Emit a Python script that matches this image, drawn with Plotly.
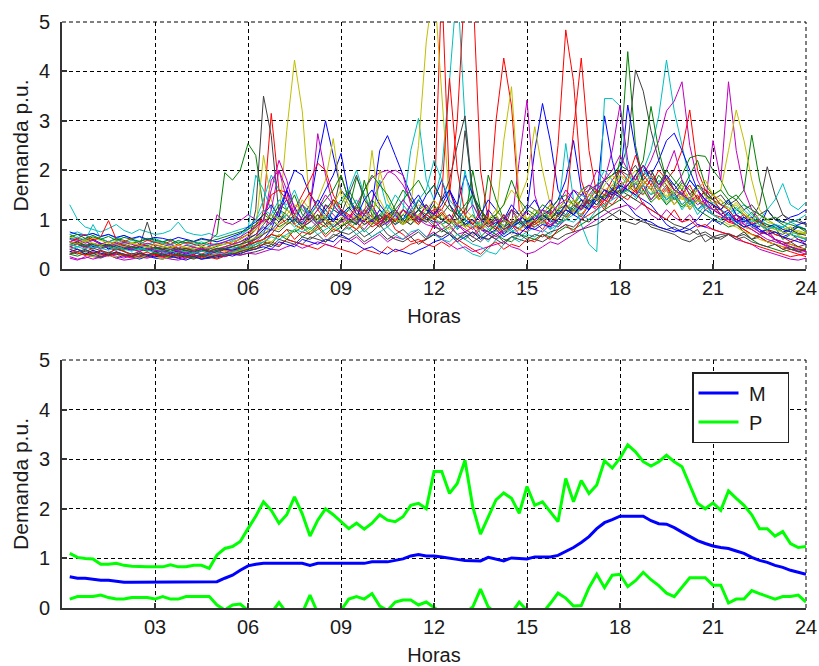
import plotly.graph_objects as go

# time axis: 15-minute samples, hours 0.25 .. 24
hours = [0.25 * (i + 1) for i in range(96)]
tick_vals = [3, 6, 9, 12, 15, 18, 21, 24]
tick_text = ["03", "06", "09", "12", "15", "18", "21", "24"]
y_ticks = [0, 1, 2, 3, 4, 5]

# ---- top panel: individual daily demand curves (p.u.) ----
b1 = [0.62,0.58,0.55,0.60,0.52,0.48,0.55,0.50,0.45,0.50,0.47,0.42,
      0.40,0.45,0.38,0.42,0.40,0.36,0.42,0.38,0.45,0.50,0.55,0.62,
      0.70,0.85,0.78,0.95,1.10,0.90,1.05,1.30,2.20,3.00,2.30,1.60,
      1.40,1.10,0.95,1.30,2.40,2.70,2.30,1.90,1.50,1.20,1.05,0.95,
      0.95,1.10,0.85,0.90,1.00,0.80,0.75,0.90,1.05,0.85,0.95,1.20,
      2.40,3.35,2.60,1.60,1.30,1.10,1.00,1.20,1.40,3.10,2.20,1.60,
      1.60,1.75,1.50,1.85,1.65,1.40,1.55,1.30,1.45,1.20,1.35,1.10,
      1.00,1.15,0.95,0.85,0.90,0.75,0.80,0.70,0.65,0.72,0.60,0.55]
g1 = [0.70,0.62,0.58,0.65,0.60,0.55,0.62,0.58,0.52,0.56,0.60,0.54,
      0.55,0.50,0.58,0.52,0.55,0.60,0.58,0.70,1.95,1.80,2.00,2.54,
      2.30,1.20,1.00,0.85,0.95,1.10,0.90,0.80,0.95,1.05,0.85,1.00,
      1.20,1.85,1.50,1.10,0.95,1.05,1.20,1.00,0.90,1.10,1.25,1.05,
      0.90,1.00,0.80,0.95,1.10,0.85,0.75,0.90,1.00,0.80,0.95,0.85,
      0.90,1.05,1.15,0.95,1.00,1.20,1.10,1.30,1.45,1.25,1.50,2.20,
      4.40,2.50,1.80,1.60,1.90,1.70,1.50,1.75,1.60,1.45,1.55,1.30,
      1.20,1.35,1.10,1.00,1.15,0.95,0.85,0.90,0.75,0.80,0.70,0.72]
r1 = [0.48,0.55,0.45,0.40,0.50,0.42,0.38,0.45,0.40,0.35,0.42,0.38,
      0.36,0.40,0.33,0.38,0.35,0.30,0.36,0.32,0.40,0.38,0.45,0.50,
      0.60,1.20,3.15,1.60,1.55,0.90,0.80,1.10,0.95,0.85,1.00,1.15,
      0.90,1.05,1.20,0.95,0.85,1.10,1.00,0.90,1.15,1.05,1.30,1.10,
      5.80,1.60,1.10,0.90,0.80,1.00,1.05,3.00,4.27,3.30,1.20,0.90,
      0.85,0.95,1.10,0.90,1.00,1.20,1.05,1.30,1.25,1.45,1.60,1.50,
      1.70,1.55,1.80,1.60,1.45,1.65,1.40,1.55,1.30,1.45,1.20,1.10,
      1.05,0.95,1.00,0.85,0.80,0.70,0.75,0.60,0.55,0.50,0.45,0.40]
c1 = [1.30,1.00,0.85,0.80,0.75,0.82,0.90,0.78,0.72,0.80,0.75,0.70,
      0.72,0.78,0.95,0.75,0.70,0.68,0.72,0.65,0.70,0.75,0.80,0.85,
      1.00,1.40,1.90,1.60,1.20,1.05,1.30,1.10,0.95,1.20,1.40,1.15,
      0.90,1.00,1.20,0.95,1.10,1.30,1.05,1.20,2.40,3.05,1.80,1.40,
      2.00,3.80,5.80,3.00,1.30,1.00,0.90,1.10,0.85,0.95,0.80,1.00,
      1.10,0.95,1.20,1.05,1.30,1.15,1.40,1.25,1.50,1.40,1.65,1.55,
      1.60,1.80,2.00,2.40,3.10,4.23,3.20,2.50,1.80,1.60,1.40,1.50,
      1.30,1.25,1.10,1.20,1.05,0.95,1.00,0.90,0.85,0.95,0.88,0.80]
m1 = [0.40,0.35,0.30,0.25,0.22,0.28,0.30,0.26,0.22,0.25,0.28,0.24,
      0.35,0.30,0.38,0.33,0.30,0.36,0.40,1.10,0.95,0.90,0.98,1.10,
      1.00,0.95,1.80,2.00,1.40,1.10,0.95,1.20,2.74,1.90,1.30,1.10,
      1.00,1.30,1.60,1.85,1.95,2.00,1.90,1.70,1.40,1.20,1.10,1.00,
      0.80,0.70,0.90,0.75,0.65,0.80,0.70,0.60,0.75,0.90,2.20,3.42,
      1.50,1.00,0.90,0.85,1.00,1.20,1.10,1.30,1.20,1.40,1.55,1.45,
      1.80,1.60,1.90,2.20,2.60,3.20,3.40,3.79,2.50,1.80,1.50,1.40,
      1.20,1.10,1.00,0.90,0.95,0.80,0.70,0.60,0.55,0.45,0.40,0.35]
y1 = [0.35,0.40,0.32,0.38,0.30,0.28,0.34,0.30,0.25,0.30,0.27,0.25,
      0.22,0.28,0.25,0.30,0.24,0.20,0.28,0.32,0.35,0.40,0.45,0.60,
      0.80,2.30,1.40,1.00,2.80,4.23,3.20,1.20,0.90,1.00,0.85,0.95,
      1.10,0.90,1.05,2.40,1.20,0.95,1.00,1.10,1.30,2.50,4.60,5.80,
      3.50,1.30,1.00,0.90,0.85,0.80,0.95,1.00,2.60,3.69,1.40,1.00,
      0.90,1.10,1.00,1.20,1.05,1.15,1.30,1.25,1.40,1.60,1.50,1.70,
      1.55,1.75,1.60,1.40,1.55,1.35,1.50,1.30,1.25,1.40,1.20,1.10,
      1.00,1.10,0.95,0.85,0.80,0.90,0.75,0.70,0.65,0.60,0.68,0.62]
k1 = [0.45,0.40,0.35,0.42,0.38,0.33,0.40,0.36,0.30,0.35,0.28,0.32,
      0.30,0.35,0.28,0.25,0.30,0.22,0.26,0.30,0.28,0.35,0.40,0.50,
      1.20,3.50,2.70,1.10,0.90,1.00,0.85,0.95,1.10,0.90,1.20,1.90,
      1.40,1.20,1.00,1.10,0.90,1.00,1.15,0.95,1.05,1.20,1.00,1.10,
      1.40,1.80,2.50,3.10,1.50,1.00,0.90,1.05,0.85,0.95,1.00,0.90,
      1.10,1.20,1.00,1.15,1.05,1.25,1.40,1.30,1.50,1.45,1.60,2.00,
      2.50,4.03,3.60,2.80,2.20,1.80,1.60,1.50,1.40,1.60,1.30,1.20,
      1.20,1.00,1.10,0.95,1.00,1.30,2.07,1.50,1.10,1.00,0.95,0.90]
b2 = [0.30,0.35,0.28,0.32,0.25,0.30,0.22,0.28,0.25,0.20,0.26,0.22,
      0.20,0.25,0.22,0.18,0.24,0.20,0.22,0.25,0.28,0.30,0.35,0.40,
      0.50,0.60,0.80,1.20,1.60,2.00,1.90,1.50,1.30,1.60,1.90,2.34,
      1.50,1.10,0.90,1.00,0.85,0.95,1.10,0.90,1.00,1.20,1.50,1.70,
      1.40,1.60,1.30,1.90,1.50,1.20,1.00,0.90,1.10,0.85,0.95,0.80,
      1.00,1.10,1.20,1.40,1.80,2.60,1.60,1.30,1.50,1.40,1.60,1.80,
      3.32,2.40,1.70,1.90,2.20,2.60,2.75,2.40,2.00,1.60,1.40,1.30,
      1.10,1.20,1.00,0.95,1.05,0.90,0.80,0.85,0.75,0.80,0.90,0.95]
g2 = [0.55,0.50,0.45,0.52,0.48,0.42,0.50,0.46,0.40,0.44,0.48,0.42,
      0.45,0.40,0.48,0.42,0.38,0.44,0.40,0.46,0.50,0.55,0.60,0.70,
      0.85,1.00,0.90,1.20,1.10,0.95,1.30,1.15,1.00,1.20,1.40,1.30,
      1.60,1.30,1.10,1.40,1.20,1.00,1.30,1.60,1.40,1.20,1.30,1.10,
      1.00,0.90,1.20,0.85,1.00,0.80,1.90,1.40,1.00,0.90,1.10,0.95,
      1.10,1.00,1.20,1.05,1.30,1.20,1.40,1.35,1.50,1.45,1.60,1.55,
      1.60,1.90,2.20,3.29,2.40,1.80,1.70,1.90,2.25,2.30,2.28,2.00,
      1.80,1.50,1.40,1.60,2.71,1.80,1.20,1.00,0.90,0.80,0.85,0.75]
r2 = [0.60,0.55,0.62,0.58,0.50,0.55,0.52,0.48,0.45,0.50,0.46,0.42,
      0.40,0.45,0.42,0.38,0.44,0.40,0.36,0.42,0.38,0.40,0.45,0.42,
      0.40,0.50,0.70,0.90,1.00,1.20,1.50,1.80,2.14,2.00,1.50,1.20,
      1.10,1.00,1.20,1.05,0.95,1.10,1.00,0.90,1.05,0.95,1.10,1.20,
      1.20,1.50,3.00,5.80,5.80,2.00,1.00,0.85,0.70,0.90,0.80,0.75,
      1.00,0.90,1.10,2.50,4.84,3.80,1.80,1.30,1.40,1.20,1.50,1.60,
      1.70,1.90,1.60,1.80,1.50,1.70,1.40,1.60,1.35,1.50,1.20,1.30,
      1.10,0.95,0.90,0.80,0.70,0.65,0.55,0.50,0.45,0.40,0.35,0.38]
c2 = [0.70,0.75,0.68,0.72,0.65,0.70,0.62,0.68,0.60,0.65,0.58,0.62,
      0.55,0.60,0.52,0.58,0.50,0.55,0.48,0.52,0.50,0.58,0.65,0.80,
      1.90,1.60,1.20,1.00,1.10,0.95,1.30,1.05,0.90,1.10,1.00,1.20,
      0.95,1.05,0.90,1.00,1.80,1.20,1.00,0.90,1.10,1.00,0.95,1.05,
      0.90,1.00,0.80,2.00,1.20,0.70,0.55,0.80,0.90,0.75,0.85,1.00,
      1.20,1.00,0.80,1.10,2.54,1.40,0.90,0.50,0.35,3.45,3.45,3.30,
      2.00,1.60,1.70,1.50,1.80,1.60,1.40,1.55,1.30,1.45,1.25,1.35,
      1.20,1.10,1.25,1.05,0.95,1.00,0.90,0.80,0.85,0.75,0.70,0.72]
m2 = [0.25,0.20,0.22,0.28,0.25,0.30,0.26,0.22,0.28,0.24,0.30,0.26,
      0.28,0.32,0.26,0.30,0.28,0.25,0.30,0.35,0.32,0.40,0.38,0.45,
      0.55,0.70,1.20,2.00,1.60,1.10,0.90,1.00,0.85,1.30,1.10,0.95,
      1.00,0.90,1.20,1.40,1.70,1.95,2.00,1.90,1.30,1.00,0.90,0.85,
      0.80,0.90,0.70,0.75,0.85,0.65,0.60,0.70,0.80,0.90,0.70,0.85,
      0.80,0.75,0.90,1.00,1.20,1.10,1.30,1.60,2.00,1.80,2.40,3.32,
      2.20,1.60,1.50,1.70,1.40,1.60,1.30,1.50,1.20,1.40,1.30,2.60,
      1.80,3.79,2.40,1.60,1.20,1.00,0.80,0.60,0.50,0.40,0.35,0.30]
y2 = [0.50,0.45,0.55,0.48,0.42,0.50,0.45,0.40,0.46,0.42,0.38,0.44,
      0.40,0.36,0.42,0.38,0.35,0.40,0.36,0.42,0.45,0.50,0.55,0.58,
      0.60,0.80,1.00,0.90,1.10,1.30,1.20,1.00,1.40,1.80,2.64,1.50,
      1.20,1.00,1.10,0.90,2.00,1.40,1.10,1.20,1.00,0.90,1.10,1.30,
      1.10,0.90,1.00,0.85,0.95,0.80,0.90,1.10,1.30,1.60,1.40,1.80,
      2.88,2.00,1.30,1.10,1.00,1.20,1.10,1.30,1.40,1.60,1.50,1.90,
      1.70,1.50,1.80,1.60,1.40,1.50,1.30,1.45,1.25,1.40,1.30,1.50,
      1.60,2.40,3.22,2.60,1.80,1.20,1.00,0.90,0.80,0.85,0.70,0.75]
k2 = [0.35,0.30,0.38,0.32,0.28,0.34,0.30,0.26,0.32,0.28,0.24,0.30,
      0.26,0.22,0.28,0.24,0.20,0.26,0.22,0.28,0.25,0.30,0.28,0.32,
      0.35,0.40,0.50,0.45,0.60,0.55,0.50,0.65,0.60,0.55,0.70,0.65,
      0.60,0.70,0.55,0.65,0.75,0.60,0.70,0.80,0.65,0.75,0.60,0.70,
      0.65,0.75,0.60,0.70,0.55,0.65,0.60,0.70,0.55,0.65,0.60,0.55,
      0.60,0.55,0.65,0.60,0.70,0.75,0.80,0.85,0.90,1.00,1.10,1.20,
      1.10,1.00,0.95,0.90,0.85,0.80,0.85,0.75,0.70,0.80,0.55,0.65,
      0.70,0.72,0.65,0.70,0.60,0.65,0.55,0.60,0.50,0.55,0.45,0.50]
b3 = [0.55,0.50,0.58,0.45,0.52,0.40,0.48,0.42,0.38,0.45,0.40,0.35,
      0.38,0.32,0.36,0.30,0.34,0.28,0.32,0.36,0.40,0.38,0.42,0.50,
      0.65,0.80,0.95,1.20,1.40,1.00,0.90,1.10,1.30,1.10,0.95,1.20,
      1.00,0.90,1.10,0.95,1.20,1.05,0.90,1.00,1.15,1.00,1.10,1.40,
      1.80,1.30,1.10,0.90,1.00,0.80,1.20,1.00,0.70,0.85,1.00,1.20,
      1.40,1.10,0.95,1.00,1.20,1.10,1.30,1.50,1.40,1.60,1.55,1.45,
      1.30,1.10,1.00,0.95,0.85,0.80,0.75,0.80,0.90,1.00,1.20,1.10,
      1.00,1.15,0.95,1.05,0.90,0.85,1.20,1.00,0.95,1.05,1.10,1.20]
g3 = [0.45,0.52,0.48,0.42,0.50,0.46,0.40,0.38,0.44,0.40,0.36,0.42,
      0.38,0.34,0.40,0.36,0.32,0.38,0.34,0.36,0.40,0.45,0.42,0.48,
      0.55,0.60,0.70,0.65,0.80,0.75,0.85,0.70,0.80,0.90,0.75,0.85,
      1.00,0.90,1.80,1.20,0.95,1.05,0.90,1.10,1.00,1.20,1.10,1.30,
      1.00,1.10,0.90,1.00,2.00,1.20,0.90,0.80,1.00,1.20,0.90,1.00,
      0.95,1.10,1.00,1.20,1.10,1.30,1.20,1.40,1.30,1.50,1.60,1.70,
      1.80,1.60,1.90,2.00,1.70,1.80,1.60,1.50,1.40,1.70,1.50,1.40,
      1.30,1.40,1.20,1.10,1.00,0.95,0.90,0.85,0.60,0.70,0.65,0.60]
r3 = [0.30,0.35,0.28,0.32,0.38,0.30,0.42,0.35,0.28,0.32,0.26,0.30,
      0.28,0.24,0.30,0.26,0.22,0.28,0.24,0.20,0.26,0.30,0.35,0.40,
      0.45,0.50,0.55,0.48,0.60,0.55,0.50,0.45,0.40,0.50,0.45,0.40,
      0.35,0.30,0.40,0.35,0.30,0.45,0.35,0.40,0.50,0.55,0.60,0.90,
      1.50,3.86,2.00,1.10,0.90,0.80,1.00,0.85,0.75,0.90,0.80,0.95,
      0.90,1.00,0.85,1.10,1.20,2.80,4.27,2.40,1.50,1.30,1.60,1.70,
      1.80,1.60,1.70,1.90,1.60,1.80,2.00,2.40,3.22,2.00,1.60,1.40,
      1.20,1.00,0.90,0.80,0.70,0.65,0.55,0.50,0.40,0.35,0.30,0.25]
c3 = [0.40,0.45,0.50,0.42,0.48,0.44,0.40,0.46,0.42,0.38,0.44,0.40,
      0.36,0.42,0.38,0.34,0.40,0.36,0.32,0.38,0.42,0.40,0.48,0.55,
      0.60,0.75,0.90,1.20,1.00,0.85,0.95,1.10,0.90,1.00,1.20,1.10,
      1.20,1.40,1.10,1.30,1.00,1.20,1.50,1.30,1.10,1.40,1.20,1.00,
      0.90,0.70,0.55,0.40,0.30,0.25,0.40,0.60,0.70,0.80,0.65,0.75,
      0.85,0.95,0.80,0.90,1.00,1.10,1.20,1.30,1.40,1.60,1.50,1.70,
      1.60,1.50,1.70,1.40,1.60,1.30,1.50,1.20,1.40,1.10,1.30,1.20,
      1.10,1.00,1.20,1.30,1.10,1.00,1.20,1.40,1.73,1.30,1.20,1.35]
m3 = [0.22,0.18,0.25,0.20,0.24,0.28,0.22,0.18,0.20,0.24,0.22,0.26,
      0.24,0.20,0.18,0.22,0.26,0.20,0.24,0.28,0.25,0.30,0.28,0.32,
      0.30,0.35,0.40,0.38,0.45,0.50,0.42,0.48,0.55,0.50,0.45,0.60,
      0.55,0.65,0.50,0.60,0.70,0.55,0.65,0.60,0.70,0.80,0.65,0.75,
      0.60,0.50,0.40,0.45,0.35,0.40,0.45,0.50,0.55,0.45,0.40,0.30,
      0.35,0.45,0.55,0.50,0.60,0.70,0.80,0.90,1.00,1.10,1.20,1.25,
      1.30,1.20,1.35,1.10,1.00,1.20,1.05,0.95,1.10,0.90,0.85,0.80,
      0.75,0.70,0.60,0.55,0.50,0.40,0.35,0.30,0.25,0.20,0.18,0.22]
y3 = [0.65,0.60,0.55,0.62,0.58,0.52,0.56,0.50,0.54,0.48,0.52,0.46,
      0.50,0.45,0.48,0.42,0.46,0.40,0.44,0.40,0.45,0.50,0.48,0.55,
      0.65,0.70,0.85,0.80,0.95,0.90,1.05,0.95,1.10,1.00,0.90,1.05,
      0.95,1.10,1.00,0.90,1.05,1.20,1.00,0.95,1.10,1.00,1.20,1.05,
      1.10,0.95,1.00,1.20,1.05,0.90,1.00,1.10,0.85,1.00,1.20,1.00,
      1.10,1.20,1.05,1.30,1.20,1.40,1.25,1.50,1.60,1.45,1.70,1.90,
      1.80,1.60,1.70,1.50,1.65,1.45,1.60,1.40,1.55,1.35,1.50,1.30,
      1.40,1.20,1.35,1.15,1.00,1.10,0.95,0.90,0.80,0.85,0.75,0.70]
k3 = [0.50,0.55,0.48,0.52,0.46,0.50,0.44,0.48,0.42,0.46,0.95,0.45,
      0.40,0.44,0.38,0.42,0.36,0.40,0.34,0.38,0.42,0.45,0.50,0.60,
      0.70,0.90,1.10,0.95,1.20,1.05,0.90,1.10,1.00,1.30,1.20,1.10,
      1.50,1.90,1.40,1.20,1.00,1.10,0.95,1.20,1.05,1.40,1.20,1.00,
      1.10,1.30,1.00,1.20,1.50,1.10,0.90,1.00,0.80,1.20,1.10,1.30,
      1.20,1.10,1.30,1.20,1.40,1.30,1.50,1.60,1.70,1.80,1.90,2.00,
      1.90,2.10,1.80,2.00,1.70,1.90,1.60,1.80,1.50,1.70,1.60,1.40,
      1.50,1.30,1.40,1.20,1.30,1.10,1.20,1.00,1.10,0.95,1.00,0.90]
b4 = [0.75,0.70,0.68,0.72,0.66,0.70,0.64,0.68,0.62,0.66,0.60,0.64,
      0.62,0.58,0.64,0.60,0.56,0.62,0.58,0.55,0.60,0.66,0.72,0.85,
      0.95,1.10,1.30,1.05,1.60,1.25,1.00,1.15,1.40,1.20,1.00,1.10,
      1.25,1.05,1.40,1.60,1.30,1.10,1.20,1.00,1.30,1.50,1.20,1.10,
      1.30,1.60,1.20,1.00,0.90,1.10,1.40,1.20,1.00,1.30,1.10,0.95,
      1.05,1.20,1.40,1.10,1.30,1.60,1.40,1.20,1.50,1.80,1.60,1.50,
      1.70,1.90,2.10,1.80,1.60,1.90,1.70,1.50,1.80,1.60,1.40,1.30,
      1.20,1.40,1.10,1.00,0.90,0.95,0.85,0.90,0.80,0.75,0.85,0.80]
g4 = [0.30,0.26,0.32,0.28,0.24,0.30,0.34,0.28,0.25,0.22,0.28,0.32,
      0.28,0.24,0.30,0.26,0.22,0.28,0.25,0.30,0.28,0.32,0.36,0.40,
      0.45,0.55,0.50,0.70,0.60,0.80,0.65,0.75,0.90,0.70,0.85,1.00,
      0.80,0.95,0.75,0.90,1.10,0.85,1.00,0.90,1.20,0.95,1.05,0.90,
      0.75,0.85,0.70,0.60,0.75,0.65,0.80,0.70,0.60,0.55,0.70,0.65,
      0.60,0.70,0.65,0.75,0.85,0.80,0.90,1.00,1.10,1.20,1.30,1.40,
      1.50,1.40,1.60,1.35,1.50,1.30,1.45,1.25,1.40,1.20,1.10,1.00,
      0.95,0.85,0.90,0.75,0.60,0.50,0.45,0.40,0.35,0.40,0.38,0.42]
r4 = [0.55,0.62,0.70,0.58,0.65,0.98,0.60,0.55,0.62,0.50,0.58,0.54,
      0.50,0.56,0.48,0.54,0.50,0.46,0.52,0.48,0.55,0.50,0.62,0.70,
      0.90,1.00,1.50,1.60,1.40,1.10,1.30,1.55,1.20,1.00,1.40,1.20,
      1.05,1.25,1.10,1.30,1.00,1.15,0.95,1.20,1.05,0.90,1.10,1.00,
      1.15,0.95,1.30,1.10,0.90,1.20,0.95,0.80,1.10,0.90,1.00,0.85,
      0.95,0.80,1.00,0.90,1.10,1.30,1.20,1.40,1.60,1.50,1.80,2.00,
      1.80,2.30,1.90,1.70,2.00,1.80,1.60,1.50,1.70,1.40,1.60,1.50,
      1.30,1.20,1.00,1.10,0.90,1.00,0.80,0.70,0.65,0.55,0.60,0.50]
c4 = [0.60,0.65,0.58,0.90,0.62,0.55,0.60,0.52,0.58,0.54,0.50,0.56,
      0.52,0.48,0.55,0.50,0.46,0.52,0.48,0.50,0.55,0.62,0.70,0.80,
      1.00,1.20,1.10,1.40,1.30,1.60,1.20,1.10,1.30,1.00,1.20,1.40,
      1.60,2.00,1.50,1.20,1.05,1.30,1.10,1.00,1.20,1.40,1.60,2.20,
      1.80,1.40,1.20,1.00,0.85,0.95,0.80,0.90,0.75,0.85,1.00,0.90,
      1.05,1.20,1.00,0.90,1.10,1.30,1.50,1.40,1.70,2.00,1.80,1.60,
      1.90,1.70,2.00,1.80,1.60,1.40,1.60,1.50,1.30,1.40,1.20,1.10,
      1.00,1.10,0.95,0.85,1.00,0.90,0.80,0.85,0.75,0.70,0.65,0.60]
m4 = [0.45,0.50,0.42,0.48,0.40,0.46,0.52,0.44,0.40,0.36,0.42,0.38,
      0.34,0.40,0.36,0.32,0.38,0.42,0.36,0.40,0.45,0.50,0.55,0.65,
      0.80,1.00,1.60,2.20,1.80,1.20,1.00,1.10,0.90,1.00,0.85,0.95,
      1.10,0.95,0.80,1.00,0.90,1.10,1.00,1.20,1.10,0.95,1.00,0.85,
      0.95,1.10,0.90,0.80,0.70,0.85,0.75,0.65,0.80,0.90,1.00,0.85,
      1.00,1.20,1.10,1.30,1.60,1.40,1.20,1.50,1.70,1.60,1.40,1.80,
      1.60,1.50,1.70,1.40,1.60,2.00,2.40,1.80,1.50,1.30,1.40,1.20,
      1.10,1.00,0.90,1.00,0.85,0.75,0.70,0.60,0.50,0.45,0.40,0.35]
y4 = [0.30,0.35,0.28,0.25,0.32,0.28,0.24,0.30,0.26,0.22,0.28,0.24,
      0.20,0.26,0.22,0.28,0.24,0.20,0.26,0.30,0.28,0.32,0.38,0.42,
      0.50,0.60,0.55,0.70,0.65,0.80,0.90,0.75,0.85,1.00,0.80,0.90,
      0.95,0.80,0.90,1.05,0.85,1.00,1.20,0.90,1.00,1.10,0.95,1.05,
      0.90,0.80,0.95,0.85,0.70,0.80,0.90,0.75,0.85,0.70,0.80,0.90,
      1.00,0.90,1.10,1.00,1.20,1.40,1.30,1.50,1.40,1.60,1.70,1.50,
      1.60,1.80,1.50,1.70,1.40,1.60,1.30,1.50,1.20,1.40,1.30,1.10,
      1.00,0.90,0.85,0.75,0.70,0.60,0.55,0.50,0.45,0.50,0.42,0.40]
k4 = [0.55,0.50,0.45,0.50,0.42,0.48,0.44,0.40,0.46,0.42,0.38,0.44,
      0.40,0.36,0.42,0.38,0.34,0.40,0.36,0.42,0.40,0.45,0.50,0.55,
      0.60,0.70,0.80,0.75,0.90,1.00,0.85,0.95,1.10,0.90,1.00,0.85,
      0.95,1.05,0.90,1.00,1.10,0.95,1.20,1.00,0.90,1.05,0.95,1.10,
      1.00,0.90,1.20,2.80,1.60,1.00,0.85,0.95,0.80,0.90,1.00,0.85,
      0.95,1.10,1.00,1.20,1.30,1.10,1.25,1.40,1.30,1.50,1.45,1.60,
      1.50,1.40,1.30,1.20,1.10,1.00,0.90,0.85,0.80,0.70,0.75,0.65,
      0.60,0.70,0.65,0.75,0.60,0.70,0.80,0.75,0.70,0.80,0.72,0.68]
b5 = [0.35,0.40,0.30,0.38,0.32,0.28,0.35,0.30,0.25,0.32,0.28,0.24,
      0.30,0.26,0.22,0.28,0.25,0.20,0.24,0.28,0.30,0.26,0.32,0.36,
      0.40,0.45,0.40,0.55,0.50,0.45,0.60,0.55,0.50,0.60,0.55,0.70,
      0.60,0.50,0.40,0.45,0.35,0.30,0.40,0.35,0.30,0.38,0.45,0.55,
      0.60,0.70,0.55,0.65,0.75,0.60,0.70,0.80,0.65,0.75,0.70,0.85,
      0.80,0.90,0.85,1.00,1.20,1.10,1.30,1.20,1.40,1.60,1.50,1.70,
      1.60,1.50,1.40,1.30,1.10,0.90,0.80,0.75,0.80,0.90,0.85,1.00,
      0.90,1.05,0.95,0.85,0.90,0.80,0.70,0.75,0.65,0.60,0.55,0.50]
g5 = [0.65,0.70,0.62,0.68,0.60,0.66,0.58,0.64,0.60,0.56,0.62,0.58,
      0.55,0.60,0.52,0.58,0.55,0.50,0.56,0.60,0.65,0.70,0.75,0.80,
      0.90,1.10,1.00,1.30,1.20,1.50,1.10,1.00,1.20,1.40,1.60,1.90,
      1.40,1.20,1.60,1.90,1.70,1.50,1.20,1.40,1.60,1.80,1.50,1.70,
      1.40,1.20,1.10,1.30,1.50,1.20,1.00,1.10,1.30,1.80,1.40,1.20,
      1.10,1.30,1.20,1.40,1.50,1.30,1.60,1.70,1.50,1.80,1.90,2.10,
      2.00,1.80,2.10,1.90,1.70,2.00,1.80,1.60,1.90,2.20,1.70,1.50,
      1.60,1.40,1.50,1.30,1.20,1.10,1.00,1.05,0.95,0.90,0.85,0.80]
r5 = [0.40,0.32,0.28,0.35,0.30,0.26,0.32,0.28,0.24,0.30,0.34,0.28,
      0.25,0.30,0.26,0.22,0.28,0.24,0.30,0.26,0.32,0.36,0.40,0.50,
      0.55,0.60,0.70,0.65,0.80,0.60,0.75,0.70,0.85,0.65,0.80,0.75,
      0.90,0.80,1.00,0.85,0.95,1.10,0.80,0.70,0.55,0.60,0.50,0.45,
      0.55,0.45,0.60,0.50,0.40,0.30,0.45,0.55,0.40,0.50,0.45,0.60,
      0.55,0.70,0.60,0.80,0.90,0.75,1.00,1.10,1.20,1.40,1.30,1.50,
      1.40,1.60,1.30,1.20,1.10,1.00,1.20,0.95,1.00,0.85,0.90,0.80,
      0.75,0.70,0.65,0.55,0.50,0.45,0.40,0.35,0.30,0.25,0.28,0.30]
c5 = [0.50,0.45,0.40,0.48,0.42,0.38,0.45,0.40,0.36,0.42,0.38,0.34,
      0.30,0.36,0.32,0.28,0.34,0.30,0.26,0.32,0.30,0.35,0.40,0.45,
      0.50,0.55,0.65,0.60,0.70,0.80,0.75,0.85,0.70,0.80,0.90,0.75,
      0.85,0.70,0.80,0.65,0.75,0.85,0.70,0.60,0.75,0.80,0.65,0.70,
      0.60,0.55,0.70,0.60,0.50,0.45,0.35,0.30,0.50,0.65,0.55,0.70,
      0.65,0.80,0.70,0.90,1.00,0.95,1.10,1.00,1.20,1.30,1.40,1.50,
      1.60,1.45,1.70,1.50,1.60,1.40,1.50,1.30,1.45,1.20,1.30,1.10,
      1.00,1.10,0.90,1.00,0.85,0.95,0.80,0.90,0.85,0.95,1.00,1.10]
m5 = [0.55,0.60,0.52,0.58,0.50,0.56,0.48,0.54,0.50,0.46,0.52,0.48,
      0.45,0.50,0.42,0.48,0.44,0.40,0.46,0.50,0.55,0.60,0.65,0.75,
      0.85,1.00,0.90,1.20,1.40,1.10,1.30,1.00,1.20,1.50,1.30,1.10,
      1.00,1.20,1.10,1.30,1.00,0.90,1.10,1.40,1.20,1.00,1.30,1.10,
      1.20,1.00,0.90,1.10,1.30,1.00,0.85,1.00,0.95,1.20,1.00,1.15,
      1.00,1.20,1.10,1.30,1.40,1.60,1.50,1.70,1.60,1.80,2.00,2.30,
      2.00,1.80,2.10,1.90,1.70,1.80,1.60,1.50,1.40,1.60,1.30,1.20,
      1.10,1.00,1.10,0.90,0.80,0.70,0.60,0.55,0.50,0.45,0.40,0.38]
y5 = [0.55,0.50,0.58,0.52,0.48,0.55,0.50,0.45,0.52,0.48,0.44,0.50,
      0.46,0.42,0.48,0.44,0.40,0.46,0.42,0.48,0.50,0.55,0.60,0.70,
      0.80,0.95,1.10,1.00,1.20,1.05,1.40,1.20,1.00,1.10,1.30,1.60,
      1.30,1.10,1.00,1.20,1.40,1.10,1.00,0.90,1.10,1.30,1.20,1.40,
      1.20,1.00,0.90,1.10,0.95,0.85,1.00,1.20,1.00,0.90,1.10,1.00,
      1.20,1.10,1.30,1.20,1.40,1.30,1.60,1.50,1.40,1.70,1.90,1.70,
      1.80,2.00,1.70,1.90,1.60,1.80,1.50,1.70,1.40,1.60,1.80,1.50,
      1.40,1.20,1.30,1.10,1.00,0.90,0.85,0.80,0.75,0.70,0.78,0.72]
k5 = [0.30,0.35,0.40,0.32,0.36,0.28,0.34,0.30,0.26,0.32,0.28,0.35,
      0.30,0.26,0.32,0.28,0.24,0.30,0.26,0.22,0.28,0.32,0.30,0.38,
      0.40,0.50,0.45,0.60,0.55,0.50,0.65,0.60,0.70,0.55,0.65,0.75,
      0.70,0.80,0.65,0.75,0.90,0.70,0.60,0.55,0.65,0.50,0.60,0.70,
      0.80,0.70,0.60,0.75,0.65,0.55,0.70,0.60,0.50,0.65,0.70,0.60,
      0.70,0.65,0.75,0.80,0.90,0.85,1.00,0.95,1.10,1.20,1.10,1.00,
      0.95,0.90,1.00,0.85,0.80,0.75,0.70,0.60,0.55,0.65,0.70,0.60,
      0.65,0.70,0.60,0.65,0.55,0.50,0.45,0.50,0.40,0.45,0.35,0.40]

# ---- bottom panel: mean (M) and percentile band (P) ----
mean_M = [0.63,0.60,0.60,0.58, 0.56,0.56,0.54,0.52, 0.52,0.52,0.52,0.52,
          0.52,0.52,0.52,0.52, 0.52,0.52,0.52,0.53, 0.60,0.66,0.76,0.85,
          0.88,0.90,0.90,0.90, 0.90,0.90,0.90,0.86, 0.90,0.90,0.90,0.90,
          0.90,0.90,0.90,0.93, 0.93,0.93,0.96,0.99, 1.05,1.08,1.05,1.05,
          1.03,1.00,0.98,0.96, 0.95,0.95,1.02,0.98, 0.95,1.01,1.00,0.99,
          1.03,1.03,1.03,1.06, 1.14,1.22,1.32,1.44, 1.60,1.72,1.78,1.85,
          1.85,1.85,1.85,1.76, 1.70,1.69,1.62,1.53, 1.44,1.36,1.30,1.25,
          1.22,1.20,1.15,1.10, 1.02,0.96,0.92,0.86, 0.82,0.76,0.72,0.68]
p_upper = [1.10,1.02,1.00,0.99, 0.88,0.88,0.90,0.86, 0.84,0.83,0.83,0.83,
           0.83,0.87,0.83,0.83, 0.86,0.86,0.80,1.07, 1.20,1.24,1.34,1.60,
           1.85,2.14,1.97,1.71, 1.88,2.24,1.90,1.45, 1.77,2.00,1.88,1.74,
           1.60,1.71,1.59,1.71, 1.88,1.77,1.74,1.84, 2.07,2.11,2.00,2.75,
           2.75,2.31,2.51,2.98, 2.04,1.49,1.84,2.18, 2.32,2.21,1.91,2.45,
           2.07,2.14,1.94,1.74, 2.61,2.14,2.57,2.31, 2.48,2.97,2.82,3.02,
           3.29,3.15,2.95,2.86, 2.95,3.08,2.95,2.85, 2.48,2.11,2.00,2.12,
           1.97,2.36,2.21,2.07, 1.88,1.60,1.60,1.45, 1.54,1.30,1.22,1.24]
p_lower = [0.18,0.23,0.23,0.23, 0.26,0.21,0.18,0.18, 0.21,0.21,0.21,0.18,
           0.23,0.18,0.18,0.23, 0.23,0.23,0.23,0.06, -0.04,0.06,0.08,-0.05,
           -0.10,-0.10,-0.10,0.11, -0.10,-0.10,-0.10,0.26, -0.10,-0.10,-0.10,-0.05,
           0.18,0.23,0.18,0.29, 0.04,-0.05,0.12,0.16, 0.16,0.06,0.12,0.01,
           -0.10,-0.10,-0.10,-0.10, 0.02,0.38,0.02,-0.10, -0.10,-0.10,0.12,-0.05,
           -0.10,-0.10,0.09,0.30, 0.20,0.04,0.05,0.41, 0.68,0.41,0.66,0.68,
           0.43,0.55,0.72,0.57, 0.45,0.30,0.23,0.41, 0.61,0.61,0.61,0.46,
           0.46,0.10,0.18,0.18, 0.35,0.29,0.24,0.18, 0.23,0.23,0.26,0.12]

curves = [b1, g1, r1, c1, m1, y1, k1, b2, g2, r2, c2, m2, y2, k2,
          b3, g3, r3, c3, m3, y3, k3, b4, g4, r4, c4, m4, y4, k4,
          b5, g5, r5, c5, m5, y5, k5]
cycle = ["#0000FF", "#008000", "#FF0000", "#00BFBF", "#BF00BF", "#BFBF00", "#404040"]

FONT = "Arial, Liberation Sans, sans-serif"
TXT = "#1a1a1a"
GRID_DASH = "4px,3px"
NB = "\u00a0"

fig = go.Figure()
for i, c in enumerate(curves):
    fig.add_trace(go.Scatter(x=hours, y=c, mode="lines", xaxis="x", yaxis="y",
                             line=dict(color=cycle[i % 7], width=1),
                             showlegend=False, hoverinfo="skip"))

fig.add_trace(go.Scatter(x=hours, y=mean_M, mode="lines", xaxis="x2", yaxis="y2",
                         name=NB + "M" + NB * 3, line=dict(color="#0000FF", width=3)))
fig.add_trace(go.Scatter(x=hours, y=p_upper, mode="lines", xaxis="x2", yaxis="y2",
                         name=NB + "P" + NB * 3, legendgroup="P",
                         line=dict(color="#00FF00", width=3)))
fig.add_trace(go.Scatter(x=hours, y=p_lower, mode="lines", xaxis="x2", yaxis="y2",
                         name=NB + "P" + NB * 3, legendgroup="P", showlegend=False,
                         line=dict(color="#00FF00", width=3)))

xl, xr = 62 / 819, 806 / 819
common_x = dict(range=[0, 24], tickvals=tick_vals, ticktext=tick_text,
                showgrid=True, gridcolor="black", griddash=GRID_DASH, gridwidth=1,
                showline=True, linecolor="#333", linewidth=2,
                ticks="inside", ticklen=5, tickcolor="#333", tickwidth=1.5,
                tickfont=dict(family=FONT, size=20, color=TXT),
                zeroline=False, domain=[xl, xr], automargin=False)
common_y = dict(range=[0, 5], tickvals=y_ticks,
                showgrid=True, gridcolor="black", griddash=GRID_DASH, gridwidth=1,
                showline=True, linecolor="#333", linewidth=2,
                ticks="inside", ticklen=5, tickcolor="#333", tickwidth=1.5,
                tickfont=dict(family=FONT, size=20, color=TXT),
                zeroline=False, ticklabelstandoff=6, automargin=False)

# dashed top and right frame edges (MATLAB-style grid box)
edge_shapes = []
for xa, ya in (("x", "y"), ("x2", "y2")):
    edge_shapes.append(dict(type="line", xref=xa + " domain", yref=ya + " domain",
                            x0=0, x1=1, y0=1, y1=1, layer="below",
                            line=dict(color="black", width=1, dash=GRID_DASH)))
    edge_shapes.append(dict(type="line", xref=xa + " domain", yref=ya + " domain",
                            x0=1, x1=1, y0=0, y1=1, layer="below",
                            line=dict(color="black", width=1, dash=GRID_DASH)))

fig.update_layout(
    width=819, height=666,
    margin=dict(l=0, r=0, t=0, b=0, autoexpand=False),
    paper_bgcolor="white", plot_bgcolor="white",
    shapes=edge_shapes,
    xaxis=dict(common_x, anchor="y",
               title=dict(text="Horas", font=dict(family=FONT, size=20, color=TXT), standoff=11)),
    yaxis=dict(common_y, anchor="x", domain=[1 - 269 / 666, 1 - 22 / 666],
               title=dict(text="Demanda p.u.", font=dict(family=FONT, size=21, color=TXT), standoff=5)),
    xaxis2=dict(common_x, anchor="y2",
                title=dict(text="Horas", font=dict(family=FONT, size=20, color=TXT), standoff=12)),
    yaxis2=dict(common_y, anchor="x2", domain=[1 - 608 / 666, 1 - 360 / 666],
                title=dict(text="Demanda p.u.", font=dict(family=FONT, size=21, color=TXT), standoff=5)),
    legend=dict(x=692 / 819, y=1 - 372 / 666, xanchor="left", yanchor="top",
                bgcolor="white", bordercolor="#222", borderwidth=1.5,
                font=dict(family=FONT, size=20, color=TXT),
                itemwidth=40, tracegroupgap=0),
    showlegend=True,
)

fig.write_html("out.html")
